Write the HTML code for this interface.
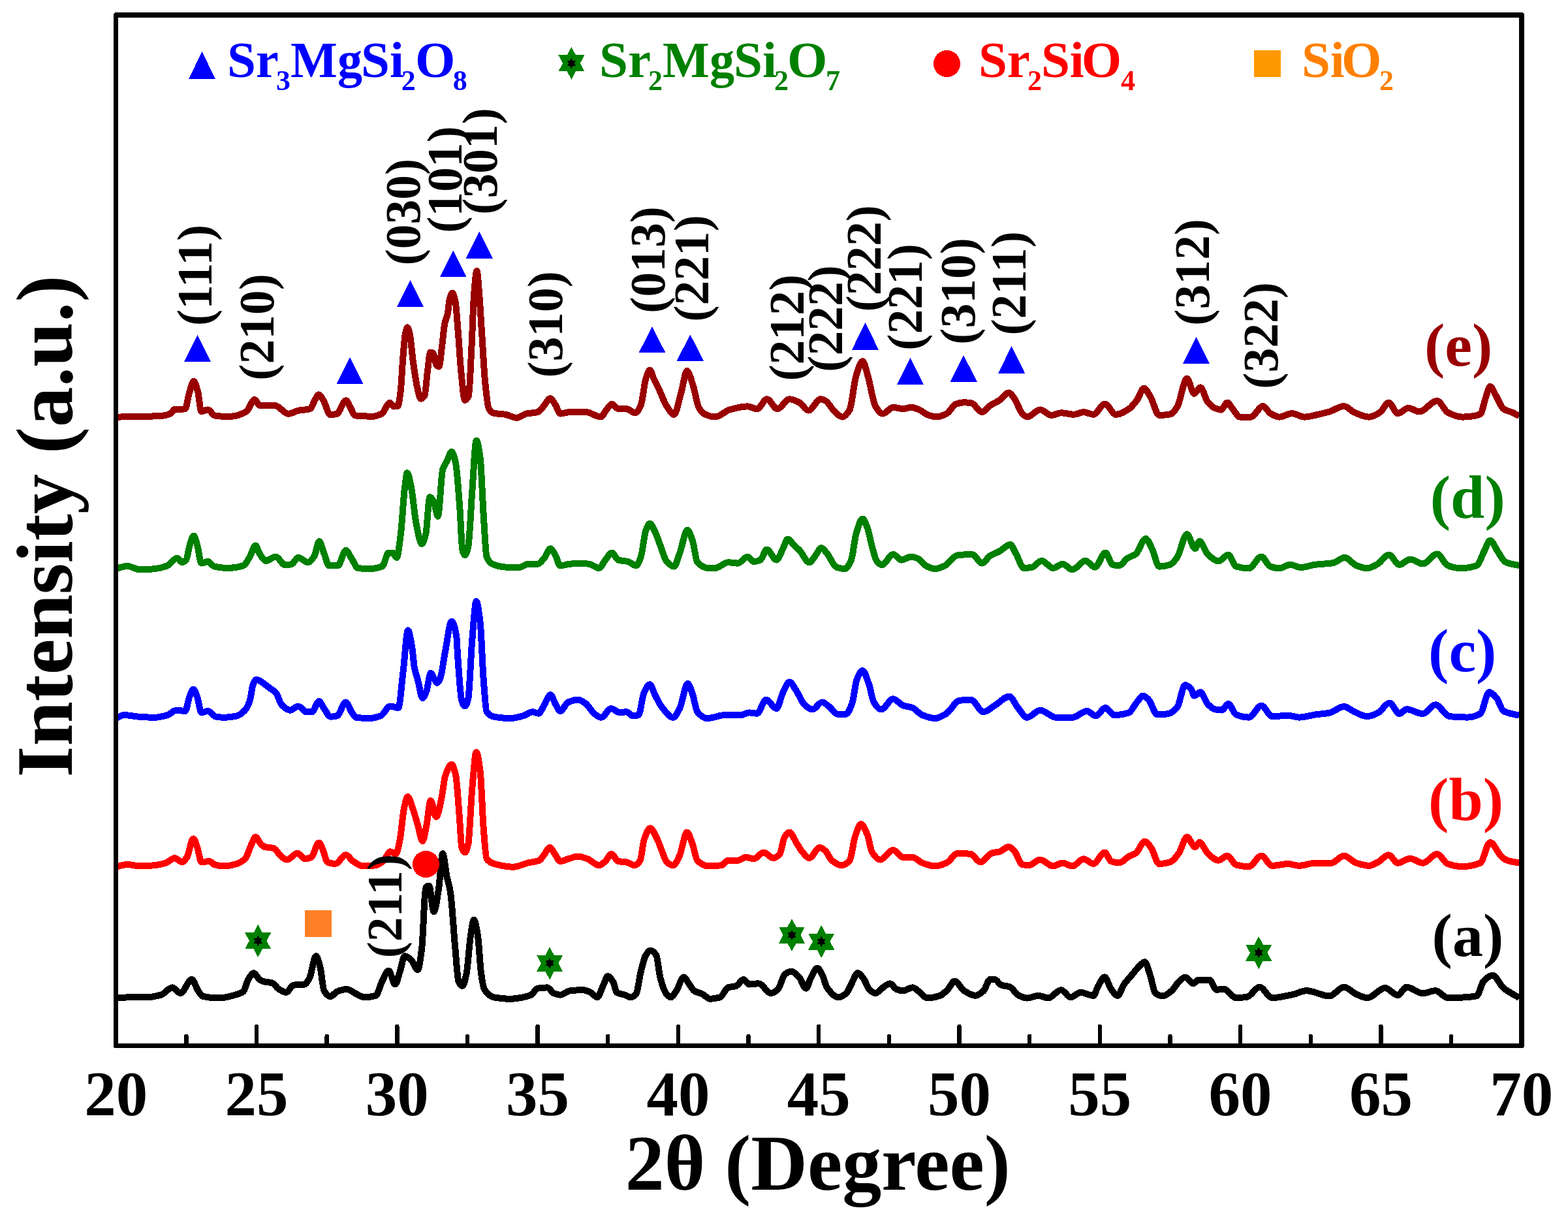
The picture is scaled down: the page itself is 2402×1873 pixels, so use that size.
<!DOCTYPE html><html><head><meta charset="utf-8"><title>XRD patterns</title>
<style>html,body{margin:0;padding:0;background:#fff;width:2402px;height:1873px;overflow:hidden}svg{display:block}text{font-family:"Liberation Serif","Times New Roman",serif;font-weight:bold}</style></head><body>
<svg width="2402" height="1873" viewBox="0 0 2402 1873" shape-rendering="crispEdges">
<rect width="2402" height="1873" fill="#fff"/>
<path d="M177.6,639.0 C185.27,638.57 192.93,637.70 200.6,637.7 C209.17,637.70 217.73,637.70 226.3,637.7 C234.87,637.70 243.43,637.26 252.0,636.4 C255.40,636.06 258.80,634.63 262.2,632.6 C263.90,631.58 265.60,626.70 267.3,626.7 C270.73,626.70 274.17,626.70 277.6,626.7 C279.73,626.70 281.87,626.47 284.0,626.0 C285.67,625.63 287.33,611.21 289.0,605.6 C291.60,596.86 294.20,583.80 296.8,583.8 C298.93,583.80 301.07,592.72 303.2,600.5 C304.90,606.70 306.60,630.00 308.3,630.0 C311.73,630.00 315.17,627.40 318.6,627.4 C322.00,627.40 325.40,635.77 328.8,636.4 C333.10,637.20 337.40,637.70 341.7,637.7 C345.97,637.70 350.23,637.70 354.5,637.7 C362.20,637.70 369.90,634.47 377.6,630.0 C381.70,627.62 385.80,612.00 389.9,612.0 C392.60,612.00 395.30,621.00 398.0,621.0 C405.73,621.00 413.47,621.00 421.2,621.0 C428.03,621.00 434.87,633.80 441.7,633.8 C446.80,633.80 451.90,629.71 457.0,628.7 C463.00,627.51 469.00,627.95 475.0,626.2 C477.57,625.45 480.13,615.98 482.7,612.0 C484.57,609.10 486.43,604.40 488.3,604.4 C490.70,604.40 493.10,609.61 495.5,613.3 C498.93,618.58 502.37,635.10 505.8,635.1 C509.20,635.10 512.60,634.56 516.0,633.8 C520.70,632.75 525.40,613.30 530.1,613.3 C532.23,613.30 534.37,620.11 536.5,623.6 C539.07,627.80 541.63,636.12 544.2,636.4 C553.60,637.43 563.00,637.70 572.4,637.7 C574.93,637.70 577.47,636.59 580.0,635.7 C581.97,635.01 583.93,634.23 585.9,632.7 C587.83,631.20 589.77,625.96 591.7,623.2 C593.43,620.73 595.17,616.60 596.9,616.6 C599.10,616.60 601.30,622.50 603.5,622.5 C605.47,622.50 607.43,622.25 609.4,621.7 C610.87,621.29 612.33,609.78 613.8,598.2 C615.00,588.73 616.20,560.86 617.4,546.8 C618.63,532.35 619.87,515.58 621.1,510.1 C622.10,505.66 623.10,501.30 624.1,501.3 C625.30,501.30 626.50,506.66 627.7,511.6 C629.43,518.74 631.17,541.79 632.9,554.2 C634.83,568.04 636.77,582.41 638.7,590.9 C640.67,599.53 642.63,610.70 644.6,610.7 C646.57,610.70 648.53,608.81 650.5,605.6 C651.97,603.21 653.43,579.78 654.9,568.9 C656.37,558.02 657.83,539.50 659.3,539.5 C660.77,539.50 662.23,540.08 663.7,541.0 C665.17,541.92 666.63,556.94 668.1,558.6 C669.57,560.26 671.03,561.50 672.5,561.5 C673.97,561.50 675.43,543.07 676.9,532.2 C678.37,521.33 679.83,502.37 681.3,495.4 C682.77,488.43 684.23,487.67 685.7,480.8 C686.70,476.11 687.70,462.35 688.7,458.7 C690.17,453.35 691.63,448.50 693.1,448.5 C694.57,448.50 696.03,454.79 697.5,461.7 C698.97,468.61 700.43,492.40 701.9,510.1 C703.37,527.80 704.83,554.66 706.3,568.9 C708.27,587.99 710.23,612.90 712.2,612.9 C714.13,612.90 716.07,610.31 718.0,605.6 C719.47,602.03 720.93,560.05 722.4,532.2 C723.63,508.78 724.87,466.48 726.1,451.4 C727.57,433.46 729.03,414.70 730.5,414.7 C731.73,414.70 732.97,436.75 734.2,451.4 C735.67,468.82 737.13,495.47 738.6,517.5 C740.07,539.53 741.53,569.07 743.0,583.6 C744.97,603.08 746.93,622.85 748.9,626.1 C751.33,630.12 753.77,632.14 756.2,632.7 C762.20,634.09 768.20,633.80 774.2,634.8 C779.97,635.76 785.73,639.80 791.5,639.8 C796.43,639.80 801.37,634.67 806.3,633.6 C812.07,632.34 817.83,632.66 823.6,631.1 C826.90,630.21 830.20,624.78 833.5,621.2 C836.63,617.80 839.77,610.10 842.9,610.1 C845.53,610.10 848.17,616.09 850.8,620.0 C853.30,623.71 855.80,633.60 858.3,633.6 C863.23,633.60 868.17,631.10 873.1,631.1 C881.33,631.10 889.57,631.10 897.8,631.1 C905.23,631.10 912.67,638.50 920.1,638.5 C923.40,638.50 926.70,629.87 930.0,626.2 C932.47,623.46 934.93,618.70 937.4,618.7 C940.70,618.70 944.00,626.20 947.3,626.2 C951.40,626.20 955.50,626.20 959.6,626.2 C964.13,626.20 968.67,632.30 973.2,632.3 C976.10,632.30 979.00,626.53 981.9,619.9 C984.37,614.26 986.83,587.98 989.3,580.4 C991.37,574.05 993.43,566.80 995.5,566.8 C997.57,566.80 999.63,576.07 1001.7,580.4 C1004.17,585.57 1006.63,590.06 1009.1,595.2 C1013.23,603.81 1017.37,616.32 1021.5,622.4 C1025.20,627.84 1028.90,634.80 1032.6,634.8 C1036.30,634.80 1040.00,612.76 1043.7,600.2 C1046.60,590.35 1049.50,568.00 1052.4,568.0 C1055.27,568.00 1058.13,579.67 1061.0,587.8 C1064.30,597.16 1067.60,619.69 1070.9,624.9 C1074.20,630.11 1077.50,633.43 1080.8,634.8 C1085.73,636.85 1090.67,638.50 1095.6,638.5 C1103.03,638.50 1110.47,629.43 1117.9,627.4 C1126.97,624.93 1136.03,622.40 1145.1,622.4 C1150.03,622.40 1154.97,626.20 1159.9,626.2 C1164.87,626.20 1169.83,611.30 1174.8,611.3 C1180.13,611.30 1185.47,626.20 1190.8,626.2 C1197.00,626.20 1203.20,611.30 1209.4,611.3 C1214.33,611.30 1219.27,613.90 1224.2,616.3 C1228.97,618.62 1233.73,628.60 1238.5,628.6 C1244.70,628.60 1250.90,611.30 1257.1,611.3 C1259.57,611.30 1262.03,612.58 1264.5,613.8 C1269.43,616.24 1274.37,626.99 1279.3,631.1 C1283.03,634.21 1286.77,638.50 1290.5,638.5 C1294.20,638.50 1297.90,633.70 1301.6,627.4 C1304.90,621.78 1308.20,585.90 1311.5,575.5 C1314.80,565.10 1318.10,553.20 1321.4,553.2 C1324.27,553.20 1327.13,568.41 1330.0,577.9 C1333.73,590.26 1337.47,616.40 1341.2,622.4 C1344.90,628.35 1348.60,633.60 1352.3,633.6 C1357.67,633.60 1363.03,623.70 1368.4,623.7 C1373.33,623.70 1378.27,626.20 1383.2,626.2 C1387.33,626.20 1391.47,623.70 1395.6,623.7 C1399.70,623.70 1403.80,625.79 1407.9,627.4 C1412.87,629.34 1417.83,634.53 1422.8,636.0 C1426.90,637.21 1431.00,638.50 1435.1,638.5 C1440.07,638.50 1445.03,636.06 1450.0,633.6 C1454.93,631.15 1459.87,620.27 1464.8,618.7 C1468.93,617.38 1473.07,616.30 1477.2,616.3 C1480.90,616.30 1484.60,616.82 1488.3,617.5 C1493.67,618.48 1499.03,631.10 1504.4,631.1 C1508.50,631.10 1512.60,623.97 1516.7,621.2 C1521.67,617.84 1526.63,615.98 1531.6,612.6 C1536.13,609.52 1540.67,601.40 1545.2,601.4 C1548.07,601.40 1550.93,606.39 1553.8,610.1 C1557.93,615.45 1562.07,629.70 1566.2,633.6 C1568.67,635.93 1571.13,638.50 1573.6,638.5 C1580.20,638.50 1586.80,627.40 1593.4,627.4 C1599.17,627.40 1604.93,636.00 1610.7,636.0 C1615.63,636.00 1620.57,632.30 1625.5,632.3 C1632.10,632.30 1638.70,634.80 1645.3,634.8 C1650.27,634.80 1655.23,631.10 1660.2,631.1 C1665.13,631.10 1670.07,634.80 1675.0,634.8 C1680.77,634.80 1686.53,618.70 1692.3,618.7 C1698.07,618.70 1703.83,634.80 1709.6,634.8 C1716.20,634.80 1722.80,630.45 1729.4,626.2 C1733.53,623.54 1737.67,618.13 1741.8,612.6 C1745.33,607.88 1748.87,594.70 1752.4,594.7 C1755.60,594.70 1758.80,601.97 1762.0,607.0 C1766.57,614.18 1771.13,635.90 1775.7,635.9 C1781.20,635.90 1786.70,635.41 1792.2,634.5 C1795.87,633.89 1799.53,628.82 1803.2,623.5 C1808.23,616.20 1813.27,579.60 1818.3,579.6 C1821.97,579.60 1825.63,602.90 1829.3,602.9 C1832.50,602.90 1835.70,593.30 1838.9,593.3 C1842.57,593.30 1846.23,610.84 1849.9,615.3 C1853.57,619.76 1857.23,623.36 1860.9,624.9 C1864.10,626.25 1867.30,627.60 1870.5,627.6 C1873.70,627.60 1876.90,616.60 1880.1,616.6 C1882.87,616.60 1885.63,623.12 1888.4,626.3 C1892.03,630.48 1895.67,638.60 1899.3,638.6 C1904.80,638.60 1910.30,638.60 1915.8,638.6 C1922.20,638.60 1928.60,622.10 1935.0,622.1 C1938.67,622.10 1942.33,630.98 1946.0,633.1 C1950.60,635.76 1955.20,638.60 1959.8,638.6 C1966.20,638.60 1972.60,633.10 1979.0,633.1 C1985.40,633.10 1991.80,638.60 1998.2,638.6 C2005.53,638.60 2012.87,636.07 2020.2,634.5 C2025.70,633.32 2031.20,632.03 2036.7,630.4 C2044.03,628.22 2051.37,622.10 2058.7,622.1 C2064.20,622.10 2069.70,629.53 2075.2,631.8 C2082.50,634.81 2089.80,638.60 2097.1,638.6 C2102.60,638.60 2108.10,635.14 2113.6,631.8 C2118.20,629.00 2122.80,616.60 2127.4,616.6 C2131.97,616.60 2136.53,633.10 2141.1,633.1 C2146.60,633.10 2152.10,624.90 2157.6,624.9 C2163.10,624.90 2168.60,630.40 2174.1,630.4 C2183.23,630.40 2192.37,613.90 2201.5,613.9 C2207.00,613.90 2212.50,629.08 2218.0,631.8 C2225.33,635.42 2232.67,638.60 2240.0,638.6 C2249.17,638.60 2258.33,637.61 2267.5,634.5 C2270.23,633.57 2272.97,617.40 2275.7,609.8 C2278.00,603.40 2280.30,591.90 2282.6,591.9 C2285.80,591.90 2289.00,601.70 2292.2,607.0 C2295.87,613.07 2299.53,623.85 2303.2,626.3 C2307.77,629.35 2312.33,629.72 2316.9,631.8 C2320.43,633.41 2323.97,635.47 2327.5,637.3" fill="none" stroke="#990000" stroke-width="10" stroke-linejoin="round" stroke-linecap="butt"/>
<path d="M177.5,871.2 C183.27,869.80 189.03,867.00 194.8,867.0 C201.40,867.00 208.00,872.40 214.6,872.4 C222.00,872.40 229.40,871.86 236.8,871.2 C243.40,870.61 250.00,868.85 256.6,866.3 C261.53,864.39 266.47,854.60 271.4,854.6 C273.90,854.60 276.40,861.30 278.9,861.3 C280.93,861.30 282.97,859.74 285.0,857.6 C287.07,855.43 289.13,838.82 291.2,832.9 C293.03,827.65 294.87,820.50 296.7,820.5 C298.57,820.50 300.43,829.24 302.3,835.4 C304.37,842.22 306.43,862.60 308.5,862.6 C311.80,862.60 315.10,860.10 318.4,860.1 C321.70,860.10 325.00,866.73 328.3,867.5 C334.90,869.05 341.50,870.00 348.1,870.0 C356.33,870.00 364.57,868.81 372.8,866.3 C376.10,865.29 379.40,858.08 382.7,852.7 C385.60,847.97 388.50,835.40 391.4,835.4 C393.47,835.40 395.53,844.66 397.6,847.7 C400.87,852.51 404.13,858.80 407.4,858.8 C412.37,858.80 417.33,852.70 422.3,852.7 C427.23,852.70 432.17,865.50 437.1,865.5 C440.40,865.50 443.70,864.77 447.0,863.8 C450.30,862.83 453.60,853.90 456.9,853.9 C461.83,853.90 466.77,861.30 471.7,861.3 C475.00,861.30 478.30,856.47 481.6,851.4 C484.07,847.61 486.53,829.20 489.0,829.2 C491.50,829.20 494.00,841.48 496.5,847.7 C498.97,853.84 501.43,866.30 503.9,866.3 C508.43,866.30 512.97,866.30 517.5,866.3 C521.60,866.30 525.70,842.80 529.8,842.8 C532.70,842.80 535.60,850.87 538.5,855.1 C541.80,859.91 545.10,869.52 548.4,870.0 C554.17,870.83 559.93,871.20 565.7,871.2 C572.30,871.20 578.90,870.00 585.5,867.5 C588.80,866.25 592.10,846.50 595.4,846.5 C597.47,846.50 599.53,846.50 601.6,846.5 C603.63,846.50 605.67,853.90 607.7,853.9 C609.77,853.90 611.83,833.95 613.9,818.0 C615.97,802.05 618.03,762.20 620.1,746.3 C621.33,736.81 622.57,724.10 623.8,724.1 C625.87,724.10 627.93,736.45 630.0,746.3 C632.47,758.06 634.93,788.45 637.4,800.7 C640.30,815.11 643.20,832.90 646.1,832.9 C648.13,832.90 650.17,825.83 652.2,818.0 C654.27,810.04 656.33,761.20 658.4,761.2 C660.47,761.20 662.53,764.90 664.6,768.6 C666.67,772.30 668.73,790.80 670.8,790.8 C673.27,790.80 675.73,727.07 678.2,719.1 C680.27,712.42 682.33,710.93 684.4,706.8 C686.87,701.87 689.33,691.90 691.8,691.9 C693.87,691.90 695.93,700.04 698.0,709.2 C700.07,718.36 702.13,749.41 704.2,776.0 C705.63,794.44 707.07,837.92 708.5,842.8 C709.77,847.11 711.03,850.20 712.3,850.2 C713.93,850.20 715.57,844.61 717.2,837.8 C719.27,829.18 721.33,778.40 723.4,751.3 C725.47,724.20 727.53,674.60 729.6,674.6 C731.63,674.60 733.67,687.09 735.7,701.8 C737.37,713.86 739.03,763.53 740.7,788.4 C742.33,812.78 743.97,848.59 745.6,852.7 C748.50,860.00 751.40,862.58 754.3,863.8 C761.70,866.90 769.10,868.70 776.5,868.7 C783.10,868.70 789.70,868.70 796.3,868.7 C800.43,868.70 804.57,863.80 808.7,863.8 C813.63,863.80 818.57,863.80 823.5,863.8 C826.80,863.80 830.10,858.75 833.4,855.1 C836.70,851.45 840.00,840.30 843.3,840.3 C845.77,840.30 848.23,846.11 850.7,850.2 C853.17,854.29 855.63,866.30 858.1,866.3 C863.07,866.30 868.03,864.34 873.0,863.8 C877.93,863.26 882.87,862.60 887.8,862.6 C892.77,862.60 897.73,863.13 902.7,863.8 C907.63,864.47 912.57,870.00 917.5,870.0 C920.80,870.00 924.10,861.50 927.4,857.6 C930.70,853.70 934.00,846.50 937.3,846.5 C940.60,846.50 943.90,856.58 947.2,857.6 C952.13,859.12 957.07,858.84 962.0,860.1 C966.13,861.16 970.27,866.30 974.4,866.3 C976.87,866.30 979.33,859.45 981.8,852.7 C984.27,845.95 986.73,819.62 989.2,813.1 C991.27,807.64 993.33,802.00 995.4,802.0 C998.27,802.00 1001.13,809.90 1004.0,815.6 C1006.50,820.57 1009.00,828.98 1011.5,835.4 C1014.80,843.88 1018.10,856.59 1021.4,860.1 C1025.10,864.04 1028.80,867.50 1032.5,867.5 C1035.37,867.50 1038.23,855.12 1041.1,847.7 C1045.07,837.43 1049.03,811.90 1053.0,811.9 C1055.63,811.90 1058.27,820.51 1060.9,827.9 C1063.37,834.83 1065.83,858.80 1068.3,861.3 C1074.07,867.14 1079.83,870.00 1085.6,870.0 C1088.90,870.00 1092.20,870.00 1095.5,870.0 C1102.10,870.00 1108.70,861.30 1115.3,861.3 C1120.27,861.30 1125.23,862.60 1130.2,862.6 C1135.13,862.60 1140.07,852.70 1145.0,852.7 C1148.30,852.70 1151.60,860.10 1154.9,860.1 C1158.20,860.10 1161.50,859.04 1164.8,857.6 C1168.10,856.16 1171.40,841.50 1174.7,841.5 C1179.63,841.50 1184.57,857.60 1189.5,857.6 C1192.80,857.60 1196.10,846.48 1199.4,840.3 C1201.87,835.68 1204.33,825.50 1206.8,825.5 C1210.10,825.50 1213.40,832.25 1216.7,835.4 C1219.40,837.97 1222.10,840.00 1224.8,842.8 C1229.77,847.95 1234.73,861.30 1239.7,861.3 C1243.00,861.30 1246.30,854.17 1249.6,850.2 C1252.47,846.75 1255.33,839.10 1258.2,839.1 C1261.10,839.10 1264.00,844.37 1266.9,847.7 C1271.83,853.36 1276.77,867.00 1281.7,868.7 C1285.83,870.13 1289.97,871.20 1294.1,871.2 C1297.40,871.20 1300.70,865.03 1304.0,857.6 C1306.47,852.05 1308.93,826.27 1311.4,818.0 C1314.70,806.94 1318.00,794.50 1321.3,794.5 C1323.77,794.50 1326.23,801.96 1328.7,808.2 C1331.17,814.44 1333.63,829.32 1336.1,837.8 C1338.57,846.28 1341.03,857.45 1343.5,860.1 C1346.00,862.79 1348.50,865.00 1351.0,865.0 C1356.77,865.00 1362.53,849.00 1368.3,849.0 C1372.40,849.00 1376.50,857.60 1380.6,857.6 C1385.57,857.60 1390.53,852.70 1395.5,852.7 C1398.80,852.70 1402.10,853.90 1405.4,855.1 C1410.33,856.89 1415.27,865.36 1420.2,867.5 C1424.33,869.29 1428.47,871.20 1432.6,871.2 C1437.53,871.20 1442.47,868.58 1447.4,866.3 C1454.00,863.26 1460.60,850.88 1467.2,850.2 C1474.60,849.44 1482.00,849.00 1489.4,849.0 C1494.37,849.00 1499.33,862.60 1504.3,862.6 C1508.40,862.60 1512.50,854.06 1516.6,851.4 C1521.57,848.18 1526.53,846.73 1531.5,844.0 C1536.83,841.07 1542.17,834.10 1547.5,834.1 C1550.40,834.10 1553.30,842.87 1556.2,847.7 C1560.33,854.59 1564.47,870.00 1568.6,870.0 C1572.70,870.00 1576.80,869.43 1580.9,868.7 C1585.87,867.81 1590.83,858.80 1595.8,858.8 C1601.57,858.80 1607.33,870.00 1613.1,870.0 C1618.03,870.00 1622.97,863.80 1627.9,863.8 C1632.83,863.80 1637.77,872.40 1642.7,872.4 C1649.30,872.40 1655.90,858.80 1662.5,858.8 C1667.47,858.80 1672.43,868.70 1677.4,868.7 C1682.73,868.70 1688.07,846.50 1693.4,846.5 C1697.13,846.50 1700.87,864.10 1704.6,865.0 C1707.87,865.79 1711.13,866.30 1714.4,866.3 C1718.53,866.30 1722.67,857.79 1726.8,855.1 C1731.20,852.23 1735.60,851.73 1740.0,848.4 C1745.03,844.59 1750.07,825.00 1755.1,825.0 C1758.30,825.00 1761.50,833.95 1764.7,840.1 C1768.37,847.14 1772.03,867.60 1775.7,867.6 C1781.20,867.60 1786.70,866.48 1792.2,864.8 C1795.87,863.68 1799.53,858.85 1803.2,853.8 C1808.23,846.87 1813.27,818.10 1818.3,818.1 C1822.43,818.10 1826.57,840.10 1830.7,840.1 C1832.97,840.10 1835.23,829.10 1837.5,829.1 C1841.63,829.10 1845.77,844.49 1849.9,848.4 C1855.40,853.60 1860.90,859.30 1866.4,859.3 C1871.43,859.30 1876.47,849.70 1881.5,849.7 C1885.60,849.70 1889.70,866.49 1893.8,867.6 C1900.23,869.35 1906.67,870.30 1913.1,870.3 C1919.50,870.30 1925.90,852.50 1932.3,852.5 C1936.87,852.50 1941.43,866.08 1946.0,867.6 C1950.60,869.13 1955.20,870.30 1959.8,870.3 C1965.30,870.30 1970.80,864.80 1976.3,864.8 C1981.77,864.80 1987.23,869.00 1992.7,869.0 C2000.03,869.00 2007.37,865.76 2014.7,864.8 C2023.87,863.60 2033.03,863.66 2042.2,862.1 C2048.13,861.09 2054.07,853.80 2060.0,853.8 C2065.97,853.80 2071.93,864.03 2077.9,866.2 C2083.40,868.20 2088.90,870.30 2094.4,870.3 C2099.90,870.30 2105.40,866.54 2110.9,863.5 C2116.40,860.46 2121.90,849.70 2127.4,849.7 C2132.87,849.70 2138.33,864.80 2143.8,864.8 C2149.30,864.80 2154.80,856.60 2160.3,856.6 C2166.73,856.60 2173.17,863.50 2179.6,863.5 C2186.90,863.50 2194.20,848.40 2201.5,848.4 C2207.00,848.40 2212.50,864.21 2218.0,866.2 C2224.43,868.52 2230.87,870.30 2237.3,870.3 C2245.53,870.30 2253.77,869.01 2262.0,866.2 C2265.67,864.95 2269.33,852.45 2273.0,845.6 C2276.20,839.62 2279.40,827.70 2282.6,827.7 C2286.73,827.70 2290.87,839.79 2295.0,845.6 C2298.67,850.76 2302.33,858.99 2306.0,860.7 C2313.17,864.04 2320.33,864.37 2327.5,866.2" fill="none" stroke="#008000" stroke-width="10" stroke-linejoin="round" stroke-linecap="butt"/>
<path d="M177.5,1100.1 C181.60,1098.43 185.70,1095.10 189.8,1095.1 C197.23,1095.10 204.67,1097.09 212.1,1097.6 C220.33,1098.16 228.57,1098.80 236.8,1098.8 C243.40,1098.80 250.00,1096.99 256.6,1095.1 C261.13,1093.80 265.67,1087.70 270.2,1087.7 C274.73,1087.70 279.27,1089.00 283.8,1089.0 C285.87,1089.00 287.93,1073.08 290.0,1067.9 C292.07,1062.72 294.13,1055.60 296.2,1055.6 C298.23,1055.60 300.27,1062.55 302.3,1067.9 C304.37,1073.34 306.43,1091.40 308.5,1091.4 C311.80,1091.40 315.10,1089.00 318.4,1089.0 C322.53,1089.00 326.67,1096.89 330.8,1097.6 C334.90,1098.30 339.00,1098.80 343.1,1098.8 C349.70,1098.80 356.30,1097.84 362.9,1096.4 C367.03,1095.50 371.17,1092.17 375.3,1087.7 C377.77,1085.03 380.23,1080.12 382.7,1072.9 C384.37,1068.02 386.03,1052.09 387.7,1048.2 C389.33,1044.39 390.97,1040.70 392.6,1040.7 C395.90,1040.70 399.20,1043.71 402.5,1045.7 C405.80,1047.69 409.10,1050.63 412.4,1053.1 C415.70,1055.57 419.00,1056.91 422.3,1060.5 C425.60,1064.09 428.90,1077.19 432.2,1080.3 C436.30,1084.17 440.40,1087.70 444.5,1087.7 C448.63,1087.70 452.77,1081.50 456.9,1081.5 C461.03,1081.50 465.17,1090.20 469.3,1090.2 C472.17,1090.20 475.03,1090.20 477.9,1090.2 C481.47,1090.20 485.03,1074.10 488.6,1074.1 C491.23,1074.10 493.87,1081.70 496.5,1085.2 C499.80,1089.58 503.10,1097.60 506.4,1097.6 C509.67,1097.60 512.93,1097.11 516.2,1096.4 C520.73,1095.42 525.27,1075.40 529.8,1075.4 C532.70,1075.40 535.60,1086.22 538.5,1090.2 C540.97,1093.59 543.43,1098.45 545.9,1098.8 C552.50,1099.75 559.10,1100.10 565.7,1100.1 C571.47,1100.10 577.23,1098.47 583.0,1096.4 C587.93,1094.63 592.87,1081.50 597.8,1081.5 C601.93,1081.50 606.07,1084.00 610.2,1084.0 C612.67,1084.00 615.13,1048.10 617.6,1028.4 C620.07,1008.70 622.53,965.30 625.0,965.3 C627.07,965.30 629.13,979.40 631.2,991.3 C632.47,998.60 633.73,1016.98 635.0,1023.4 C636.63,1031.68 638.27,1034.70 639.9,1040.7 C642.37,1049.76 644.83,1069.20 647.3,1069.2 C649.37,1069.20 651.43,1063.29 653.5,1058.0 C655.57,1052.71 657.63,1030.80 659.7,1030.8 C663.00,1030.80 666.30,1045.70 669.6,1045.7 C671.23,1045.70 672.87,1042.01 674.5,1038.3 C676.97,1032.70 679.43,1011.15 681.9,998.7 C685.20,982.05 688.50,951.70 691.8,951.7 C694.27,951.70 696.73,959.63 699.2,974.0 C699.83,977.69 700.47,995.11 701.1,1003.6 C703.17,1031.31 705.23,1066.90 707.3,1072.9 C708.97,1077.74 710.63,1081.50 712.3,1081.5 C713.93,1081.50 715.57,1076.64 717.2,1070.4 C719.27,1062.51 721.33,1002.59 723.4,978.9 C725.47,955.21 727.53,920.80 729.6,920.8 C731.63,920.80 733.67,936.99 735.7,954.2 C737.37,968.31 739.03,1019.46 740.7,1040.7 C742.33,1061.52 743.97,1087.91 745.6,1090.2 C749.33,1095.43 753.07,1096.88 756.8,1097.6 C765.03,1099.19 773.27,1100.10 781.5,1100.1 C788.10,1100.10 794.70,1098.14 801.3,1096.4 C806.23,1095.10 811.17,1090.20 816.1,1090.2 C819.00,1090.20 821.90,1092.70 824.8,1092.7 C827.67,1092.70 830.53,1084.68 833.4,1080.3 C836.70,1075.26 840.00,1064.20 843.3,1064.2 C845.77,1064.20 848.23,1073.71 850.7,1077.8 C853.17,1081.89 855.63,1089.00 858.1,1089.0 C862.23,1089.00 866.37,1077.14 870.5,1075.4 C875.47,1073.30 880.43,1071.60 885.4,1071.6 C889.50,1071.60 893.60,1074.89 897.7,1077.8 C901.83,1080.73 905.97,1089.60 910.1,1092.7 C913.80,1095.47 917.50,1098.80 921.2,1098.8 C926.13,1098.80 931.07,1085.20 936.0,1085.2 C940.53,1085.20 945.07,1091.40 949.6,1091.4 C952.90,1091.40 956.20,1090.20 959.5,1090.2 C962.80,1090.20 966.10,1096.40 969.4,1096.4 C972.30,1096.40 975.20,1095.94 978.1,1095.1 C980.97,1094.27 983.83,1066.50 986.7,1060.5 C989.60,1054.43 992.50,1048.20 995.4,1048.2 C998.27,1048.20 1001.13,1060.13 1004.0,1065.5 C1007.30,1071.68 1010.60,1078.69 1013.9,1082.8 C1019.67,1089.98 1025.43,1098.80 1031.2,1098.8 C1034.50,1098.80 1037.80,1091.39 1041.1,1085.2 C1045.23,1077.45 1049.37,1046.90 1053.5,1046.9 C1055.97,1046.90 1058.43,1056.26 1060.9,1063.0 C1063.37,1069.74 1065.83,1087.19 1068.3,1090.2 C1073.27,1096.26 1078.23,1100.10 1083.2,1100.1 C1092.27,1100.10 1101.33,1095.10 1110.4,1095.1 C1118.63,1095.10 1126.87,1095.10 1135.1,1095.1 C1139.23,1095.10 1143.37,1091.40 1147.5,1091.4 C1151.60,1091.40 1155.70,1092.70 1159.8,1092.7 C1164.33,1092.70 1168.87,1071.60 1173.4,1071.6 C1178.77,1071.60 1184.13,1085.20 1189.5,1085.2 C1192.80,1085.20 1196.10,1067.00 1199.4,1060.5 C1202.70,1054.00 1206.00,1044.40 1209.3,1044.4 C1212.83,1044.40 1216.37,1052.85 1219.9,1058.0 C1224.03,1064.02 1228.17,1075.43 1232.3,1079.1 C1236.40,1082.74 1240.50,1086.50 1244.6,1086.5 C1249.57,1086.50 1254.53,1075.40 1259.5,1075.4 C1262.77,1075.40 1266.03,1079.20 1269.3,1081.5 C1274.27,1085.00 1279.23,1093.90 1284.2,1093.9 C1287.90,1093.90 1291.60,1093.90 1295.3,1093.9 C1298.60,1093.90 1301.90,1086.11 1305.2,1077.8 C1307.67,1071.59 1310.13,1046.66 1312.6,1040.7 C1315.50,1033.69 1318.40,1027.10 1321.3,1027.1 C1324.60,1027.10 1327.90,1039.18 1331.2,1048.2 C1333.67,1054.94 1336.13,1071.37 1338.6,1075.4 C1342.30,1081.45 1346.00,1086.50 1349.7,1086.5 C1355.90,1086.50 1362.10,1070.40 1368.3,1070.4 C1373.23,1070.40 1378.17,1078.50 1383.1,1080.3 C1388.03,1082.10 1392.97,1082.15 1397.9,1084.0 C1402.87,1085.86 1407.83,1093.18 1412.8,1095.1 C1419.40,1097.65 1426.00,1100.10 1432.6,1100.1 C1438.37,1100.10 1444.13,1096.13 1449.9,1092.7 C1456.47,1088.79 1463.03,1073.80 1469.6,1072.9 C1475.37,1072.11 1481.13,1071.60 1486.9,1071.6 C1493.50,1071.60 1500.10,1090.20 1506.7,1090.2 C1512.47,1090.20 1518.23,1083.70 1524.0,1080.3 C1531.43,1075.92 1538.87,1066.70 1546.3,1066.7 C1550.43,1066.70 1554.57,1077.91 1558.7,1082.8 C1563.63,1088.64 1568.57,1098.80 1573.5,1098.8 C1580.10,1098.80 1586.70,1087.70 1593.3,1087.7 C1601.53,1087.70 1609.77,1098.80 1618.0,1098.8 C1626.23,1098.80 1634.47,1098.80 1642.7,1098.8 C1650.13,1098.80 1657.57,1089.00 1665.0,1089.0 C1669.53,1089.00 1674.07,1096.40 1678.6,1096.4 C1683.53,1096.40 1688.47,1084.00 1693.4,1084.0 C1697.93,1084.00 1702.47,1095.10 1707.0,1095.1 C1714.43,1095.10 1721.87,1093.76 1729.3,1091.4 C1733.40,1090.10 1737.50,1080.12 1741.6,1075.4 C1744.73,1071.79 1747.87,1065.60 1751.0,1065.6 C1753.73,1065.60 1756.47,1068.57 1759.2,1071.1 C1763.80,1075.36 1768.40,1094.50 1773.0,1094.5 C1778.50,1094.50 1784.00,1093.95 1789.5,1093.1 C1794.07,1092.39 1798.63,1088.67 1803.2,1083.5 C1807.30,1078.86 1811.40,1049.10 1815.5,1049.1 C1818.73,1049.10 1821.97,1052.20 1825.2,1056.0 C1826.57,1057.61 1827.93,1065.60 1829.3,1065.6 C1832.50,1065.60 1835.70,1060.10 1838.9,1060.1 C1842.57,1060.10 1846.23,1074.25 1849.9,1078.0 C1853.57,1081.75 1857.23,1085.40 1860.9,1086.2 C1864.57,1087.00 1868.23,1087.60 1871.9,1087.6 C1875.10,1087.60 1878.30,1078.00 1881.5,1078.0 C1885.60,1078.00 1889.70,1092.91 1893.8,1094.5 C1900.23,1096.99 1906.67,1098.60 1913.1,1098.6 C1919.50,1098.60 1925.90,1080.70 1932.3,1080.7 C1937.80,1080.70 1943.30,1097.20 1948.8,1097.2 C1957.03,1097.20 1965.27,1095.80 1973.5,1095.8 C1979.00,1095.80 1984.50,1098.60 1990.0,1098.6 C1998.23,1098.60 2006.47,1095.68 2014.7,1094.5 C2022.03,1093.45 2029.37,1093.15 2036.7,1091.7 C2044.03,1090.25 2051.37,1082.10 2058.7,1082.1 C2064.20,1082.10 2069.70,1088.00 2075.2,1090.3 C2081.60,1092.98 2088.00,1097.20 2094.4,1097.2 C2099.90,1097.20 2105.40,1094.32 2110.9,1091.7 C2116.83,1088.88 2122.77,1076.60 2128.7,1076.6 C2133.73,1076.60 2138.77,1093.10 2143.8,1093.1 C2147.47,1093.10 2151.13,1086.20 2154.8,1086.2 C2163.07,1086.20 2171.33,1093.10 2179.6,1093.1 C2186.00,1093.10 2192.40,1079.30 2198.8,1079.3 C2206.13,1079.30 2213.47,1096.47 2220.8,1097.2 C2229.93,1098.11 2239.07,1098.60 2248.2,1098.6 C2254.63,1098.60 2261.07,1096.53 2267.5,1093.1 C2272.07,1090.66 2276.63,1060.10 2281.2,1060.1 C2284.87,1060.10 2288.53,1064.46 2292.2,1068.4 C2295.87,1072.34 2299.53,1087.03 2303.2,1089.0 C2311.30,1093.35 2319.40,1093.53 2327.5,1095.8" fill="none" stroke="#0000ff" stroke-width="10" stroke-linejoin="round" stroke-linecap="butt"/>
<path d="M177.5,1327.7 C183.27,1326.47 189.03,1324.00 194.8,1324.0 C201.40,1324.00 208.00,1326.50 214.6,1326.5 C222.00,1326.50 229.40,1325.90 236.8,1325.2 C242.57,1324.66 248.33,1323.30 254.1,1321.5 C258.63,1320.08 263.17,1314.10 267.7,1314.1 C271.43,1314.10 275.17,1320.30 278.9,1320.3 C281.37,1320.30 283.83,1316.48 286.3,1312.9 C289.60,1308.11 292.90,1284.40 296.2,1284.4 C298.23,1284.40 300.27,1292.41 302.3,1298.0 C304.37,1303.69 306.43,1320.30 308.5,1320.3 C312.63,1320.30 316.77,1319.10 320.9,1319.1 C323.37,1319.10 325.83,1323.29 328.3,1324.0 C333.23,1325.42 338.17,1326.50 343.1,1326.5 C349.70,1326.50 356.30,1324.76 362.9,1322.8 C367.03,1321.57 371.17,1319.39 375.3,1315.4 C378.60,1312.22 381.90,1299.63 385.2,1293.1 C387.27,1289.01 389.33,1282.00 391.4,1282.0 C394.27,1282.00 397.13,1290.47 400.0,1293.1 C401.67,1294.63 403.33,1296.29 405.0,1296.8 C409.93,1298.31 414.87,1297.78 419.8,1299.3 C423.10,1300.32 426.40,1307.75 429.7,1310.4 C433.00,1313.05 436.30,1316.60 439.6,1316.6 C444.97,1316.60 450.33,1306.70 455.7,1306.7 C459.40,1306.70 463.10,1315.40 466.8,1315.4 C470.10,1315.40 473.40,1314.34 476.7,1312.9 C480.67,1311.17 484.63,1290.60 488.6,1290.6 C490.80,1290.60 493.00,1298.05 495.2,1303.0 C497.27,1307.65 499.33,1319.44 501.4,1320.3 C505.53,1322.02 509.67,1322.80 513.8,1322.8 C519.13,1322.80 524.47,1309.20 529.8,1309.2 C533.53,1309.20 537.27,1316.68 541.0,1319.1 C545.93,1322.29 550.87,1326.50 555.8,1326.5 C562.40,1326.50 569.00,1326.03 575.6,1325.2 C579.73,1324.68 583.87,1321.30 588.0,1317.8 C591.27,1315.03 594.53,1304.20 597.8,1304.2 C600.70,1304.20 603.60,1307.90 606.5,1307.9 C608.57,1307.90 610.63,1295.75 612.7,1285.7 C614.77,1275.65 616.83,1248.08 618.9,1238.7 C620.80,1230.08 622.70,1220.10 624.6,1220.1 C627.23,1220.10 629.87,1231.42 632.5,1238.7 C634.97,1245.52 637.43,1255.17 639.9,1263.4 C642.37,1271.63 644.83,1288.10 647.3,1288.1 C649.37,1288.10 651.43,1273.29 653.5,1263.4 C655.57,1253.51 657.63,1226.30 659.7,1226.3 C662.57,1226.30 665.43,1251.10 668.3,1251.1 C671.20,1251.10 674.10,1232.54 677.0,1218.9 C678.63,1211.22 680.27,1194.16 681.9,1189.2 C685.20,1179.18 688.50,1170.70 691.8,1170.7 C693.87,1170.70 695.93,1178.09 698.0,1186.8 C700.07,1195.51 702.13,1230.43 704.2,1256.0 C705.23,1268.78 706.27,1295.02 707.3,1298.0 C708.97,1302.80 710.63,1305.50 712.3,1305.5 C713.93,1305.50 715.57,1299.91 717.2,1293.1 C719.27,1284.48 721.33,1228.77 723.4,1206.5 C725.47,1184.23 727.53,1152.10 729.6,1152.1 C731.63,1152.10 733.67,1166.05 735.7,1181.8 C737.37,1194.71 739.03,1247.84 740.7,1268.4 C742.33,1288.55 743.97,1313.12 745.6,1315.4 C749.33,1320.61 753.07,1321.71 756.8,1322.8 C766.67,1325.67 776.53,1327.70 786.4,1327.7 C793.83,1327.70 801.27,1323.29 808.7,1321.5 C814.47,1320.11 820.23,1320.09 826.0,1317.8 C828.47,1316.82 830.93,1312.21 833.4,1309.2 C836.30,1305.66 839.20,1298.00 842.1,1298.0 C844.97,1298.00 847.83,1305.42 850.7,1309.2 C853.17,1312.46 855.63,1319.10 858.1,1319.1 C862.23,1319.10 866.37,1316.54 870.5,1315.4 C875.47,1314.03 880.43,1311.60 885.4,1311.6 C890.33,1311.60 895.27,1313.67 900.2,1315.4 C905.97,1317.42 911.73,1325.20 917.5,1325.2 C920.80,1325.20 924.10,1321.82 927.4,1319.1 C930.43,1316.60 933.47,1307.90 936.5,1307.9 C940.07,1307.90 943.63,1318.45 947.2,1319.1 C951.30,1319.85 955.40,1319.66 959.5,1320.3 C963.63,1320.95 967.77,1325.20 971.9,1325.2 C974.80,1325.20 977.70,1322.23 980.6,1317.8 C982.63,1314.69 984.67,1291.52 986.7,1285.7 C989.77,1276.92 992.83,1268.40 995.9,1268.4 C999.43,1268.40 1002.97,1277.64 1006.5,1284.4 C1008.97,1289.12 1011.43,1297.07 1013.9,1303.0 C1016.40,1309.01 1018.90,1318.19 1021.4,1320.3 C1024.67,1323.06 1027.93,1325.20 1031.2,1325.2 C1034.50,1325.20 1037.80,1317.08 1041.1,1310.4 C1044.83,1302.84 1048.57,1274.50 1052.3,1274.5 C1055.17,1274.50 1058.03,1285.54 1060.9,1293.1 C1063.37,1299.61 1065.83,1315.41 1068.3,1317.8 C1074.07,1323.39 1079.83,1326.50 1085.6,1326.5 C1092.20,1326.50 1098.80,1326.08 1105.4,1325.2 C1108.70,1324.76 1112.00,1317.80 1115.3,1317.8 C1120.27,1317.80 1125.23,1317.80 1130.2,1317.8 C1134.30,1317.80 1138.40,1312.90 1142.5,1312.9 C1146.63,1312.90 1150.77,1315.40 1154.9,1315.4 C1159.83,1315.40 1164.77,1305.50 1169.7,1305.5 C1174.67,1305.50 1179.63,1314.10 1184.6,1314.1 C1187.90,1314.10 1191.20,1311.53 1194.5,1307.9 C1196.97,1305.19 1199.43,1285.88 1201.9,1282.0 C1204.37,1278.12 1206.83,1274.50 1209.3,1274.5 C1212.83,1274.50 1216.37,1285.26 1219.9,1290.6 C1223.20,1295.59 1226.50,1301.86 1229.8,1305.5 C1233.10,1309.14 1236.40,1314.10 1239.7,1314.1 C1245.03,1314.10 1250.37,1298.00 1255.7,1298.0 C1258.60,1298.00 1261.50,1300.62 1264.4,1303.0 C1267.70,1305.71 1271.00,1315.24 1274.3,1317.8 C1279.23,1321.62 1284.17,1325.20 1289.1,1325.2 C1293.23,1325.20 1297.37,1322.34 1301.5,1317.8 C1304.37,1314.65 1307.23,1288.87 1310.1,1280.7 C1313.00,1272.43 1315.90,1262.20 1318.8,1262.2 C1322.10,1262.20 1325.40,1270.72 1328.7,1278.3 C1331.17,1283.97 1333.63,1301.76 1336.1,1305.5 C1340.23,1311.77 1344.37,1316.60 1348.5,1316.6 C1355.10,1316.60 1361.70,1301.70 1368.3,1301.7 C1373.23,1301.70 1378.17,1312.90 1383.1,1312.9 C1388.03,1312.90 1392.97,1312.90 1397.9,1312.9 C1402.87,1312.90 1407.83,1319.72 1412.8,1321.5 C1419.40,1323.86 1426.00,1326.50 1432.6,1326.5 C1438.37,1326.50 1444.13,1323.99 1449.9,1321.5 C1455.67,1319.01 1461.43,1306.70 1467.2,1306.7 C1473.80,1306.70 1480.40,1307.12 1487.0,1307.9 C1491.93,1308.48 1496.87,1320.30 1501.8,1320.3 C1507.57,1320.30 1513.33,1308.49 1519.1,1306.7 C1523.23,1305.42 1527.37,1305.41 1531.5,1304.2 C1536.03,1302.88 1540.57,1296.80 1545.1,1296.8 C1547.97,1296.80 1550.83,1300.17 1553.7,1303.0 C1557.83,1307.08 1561.97,1323.09 1566.1,1324.0 C1569.40,1324.72 1572.70,1325.20 1576.0,1325.2 C1581.77,1325.20 1587.53,1316.60 1593.3,1316.6 C1599.90,1316.60 1606.50,1326.50 1613.1,1326.5 C1618.03,1326.50 1622.97,1321.50 1627.9,1321.5 C1632.83,1321.50 1637.77,1326.50 1642.7,1326.5 C1648.47,1326.50 1654.23,1315.40 1660.0,1315.4 C1664.97,1315.40 1669.93,1322.80 1674.9,1322.8 C1680.67,1322.80 1686.43,1305.50 1692.2,1305.5 C1695.50,1305.50 1698.80,1317.94 1702.1,1319.1 C1706.20,1320.54 1710.30,1321.50 1714.4,1321.5 C1719.37,1321.50 1724.33,1314.30 1729.3,1311.6 C1732.87,1309.66 1736.43,1309.01 1740.0,1306.6 C1744.57,1303.52 1749.13,1288.70 1753.7,1288.7 C1756.93,1288.70 1760.17,1294.14 1763.4,1298.4 C1767.50,1303.80 1771.60,1323.10 1775.7,1323.1 C1781.20,1323.10 1786.70,1321.93 1792.2,1320.3 C1796.77,1318.95 1801.33,1312.71 1805.9,1306.6 C1810.03,1301.07 1814.17,1281.90 1818.3,1281.9 C1822.43,1281.90 1826.57,1297.00 1830.7,1297.0 C1832.97,1297.00 1835.23,1290.10 1837.5,1290.1 C1841.63,1290.10 1845.77,1302.87 1849.9,1306.6 C1855.40,1311.56 1860.90,1317.60 1866.4,1317.6 C1870.97,1317.60 1875.53,1310.70 1880.1,1310.7 C1884.67,1310.70 1889.23,1323.33 1893.8,1324.5 C1900.23,1326.15 1906.67,1327.20 1913.1,1327.2 C1919.50,1327.20 1925.90,1310.70 1932.3,1310.7 C1937.80,1310.70 1943.30,1325.80 1948.8,1325.8 C1957.03,1325.80 1965.27,1323.10 1973.5,1323.1 C1979.00,1323.10 1984.50,1325.80 1990.0,1325.8 C1998.23,1325.80 2006.47,1321.70 2014.7,1321.7 C2022.97,1321.70 2031.23,1321.70 2039.5,1321.7 C2045.90,1321.70 2052.30,1310.70 2058.7,1310.7 C2065.10,1310.70 2071.50,1319.71 2077.9,1321.7 C2084.30,1323.69 2090.70,1325.80 2097.1,1325.8 C2101.70,1325.80 2106.30,1322.58 2110.9,1320.3 C2116.40,1317.58 2121.90,1309.30 2127.4,1309.3 C2131.97,1309.30 2136.53,1321.70 2141.1,1321.7 C2147.50,1321.70 2153.90,1314.80 2160.3,1314.8 C2166.73,1314.80 2173.17,1321.70 2179.6,1321.7 C2186.90,1321.70 2194.20,1308.00 2201.5,1308.0 C2207.00,1308.00 2212.50,1321.34 2218.0,1323.1 C2225.33,1325.44 2232.67,1327.20 2240.0,1327.2 C2249.17,1327.20 2258.33,1325.34 2267.5,1321.7 C2272.53,1319.70 2277.57,1290.10 2282.6,1290.1 C2288.53,1290.10 2294.47,1307.16 2300.4,1312.1 C2303.17,1314.40 2305.93,1316.63 2308.7,1317.6 C2314.97,1319.80 2321.23,1320.33 2327.5,1321.7" fill="none" stroke="#ff0000" stroke-width="10" stroke-linejoin="round" stroke-linecap="butt"/>
<path d="M177.5,1528.5 C184.90,1528.10 192.30,1527.30 199.7,1527.3 C207.97,1527.30 216.23,1527.30 224.5,1527.3 C231.90,1527.30 239.30,1525.61 246.7,1523.6 C252.47,1522.03 258.23,1512.40 264.0,1512.4 C268.13,1512.40 272.27,1521.10 276.4,1521.1 C282.17,1521.10 287.93,1500.10 293.7,1500.1 C297.00,1500.10 300.30,1512.84 303.6,1517.4 C306.07,1520.81 308.53,1525.46 311.0,1526.0 C319.23,1527.81 327.47,1528.50 335.7,1528.5 C343.97,1528.50 352.23,1525.89 360.5,1523.6 C364.60,1522.47 368.70,1521.65 372.8,1518.6 C375.27,1516.77 377.73,1504.00 380.2,1500.1 C383.10,1495.52 386.00,1490.20 388.9,1490.2 C391.80,1490.20 394.70,1498.29 397.6,1500.1 C400.47,1501.89 403.33,1503.25 406.2,1503.8 C409.50,1504.43 412.80,1504.31 416.1,1505.0 C419.80,1505.78 423.50,1512.70 427.2,1514.9 C430.93,1517.12 434.67,1519.90 438.4,1519.9 C442.10,1519.90 445.80,1509.21 449.5,1508.7 C455.27,1507.90 461.03,1508.36 466.8,1507.5 C469.27,1507.13 471.73,1502.23 474.2,1497.6 C477.50,1491.41 480.80,1464.20 484.1,1464.2 C486.17,1464.20 488.23,1472.81 490.3,1480.3 C492.37,1487.79 494.43,1514.07 496.5,1517.4 C499.80,1522.71 503.10,1526.00 506.4,1526.0 C509.67,1526.00 512.93,1519.86 516.2,1518.6 C521.17,1516.68 526.13,1514.90 531.1,1514.9 C536.03,1514.90 540.97,1520.10 545.9,1522.3 C550.03,1524.14 554.17,1527.30 558.3,1527.3 C564.07,1527.30 569.83,1526.50 575.6,1524.8 C578.90,1523.83 582.20,1508.82 585.5,1502.6 C588.80,1496.38 592.10,1486.50 595.4,1486.5 C598.70,1486.50 602.00,1507.50 605.3,1507.5 C607.77,1507.50 610.23,1494.86 612.7,1487.7 C615.17,1480.54 617.63,1464.20 620.1,1464.2 C623.40,1464.20 626.70,1467.49 630.0,1470.4 C633.30,1473.31 636.60,1485.20 639.9,1485.2 C641.97,1485.20 644.03,1469.05 646.1,1453.1 C648.17,1437.15 650.23,1360.99 652.3,1359.1 C653.93,1357.60 655.57,1356.70 657.2,1356.7 C659.67,1356.70 662.13,1396.20 664.6,1396.2 C667.07,1396.20 669.53,1376.78 672.0,1361.6 C674.07,1348.88 676.13,1307.20 678.2,1307.2 C680.27,1307.20 682.33,1331.64 684.4,1341.8 C686.27,1350.98 688.13,1354.79 690.0,1366.5 C692.47,1381.98 694.93,1426.78 697.4,1453.1 C699.07,1470.88 700.73,1498.90 702.4,1502.6 C704.43,1507.11 706.47,1510.00 708.5,1510.0 C710.57,1510.00 712.63,1499.99 714.7,1490.2 C716.77,1480.41 718.83,1446.43 720.9,1433.3 C722.57,1422.71 724.23,1408.60 725.9,1408.6 C727.93,1408.60 729.97,1420.96 732.0,1433.3 C733.67,1443.41 735.33,1478.57 737.0,1490.2 C738.63,1501.60 740.27,1512.25 741.9,1514.9 C746.87,1522.97 751.83,1526.34 756.8,1527.3 C765.03,1528.89 773.27,1529.80 781.5,1529.8 C788.10,1529.80 794.70,1528.51 801.3,1527.3 C805.40,1526.55 809.50,1525.53 813.6,1523.6 C816.90,1522.04 820.20,1514.26 823.5,1513.7 C828.47,1512.86 833.43,1512.40 838.4,1512.4 C841.70,1512.40 845.00,1519.80 848.3,1521.1 C851.57,1522.39 854.83,1523.60 858.1,1523.6 C863.07,1523.60 868.03,1517.94 873.0,1517.4 C879.60,1516.68 886.20,1516.20 892.8,1516.2 C896.90,1516.20 901.00,1518.11 905.1,1519.9 C908.40,1521.34 911.70,1527.30 915.0,1527.3 C917.90,1527.30 920.80,1515.80 923.7,1510.0 C926.17,1505.06 928.63,1495.10 931.1,1495.1 C934.00,1495.10 936.90,1499.98 939.8,1505.0 C941.43,1507.82 943.07,1518.89 944.7,1519.9 C948.83,1522.45 952.97,1522.13 957.1,1523.6 C959.97,1524.62 962.83,1527.30 965.7,1527.3 C968.60,1527.30 971.50,1525.33 974.4,1522.3 C976.87,1519.72 979.33,1497.31 981.8,1487.7 C984.27,1478.09 986.73,1466.80 989.2,1463.0 C991.67,1459.20 994.13,1455.60 996.6,1455.6 C999.50,1455.60 1002.40,1458.54 1005.3,1463.0 C1007.37,1466.18 1009.43,1489.87 1011.5,1497.6 C1014.37,1508.32 1017.23,1517.47 1020.1,1521.1 C1022.57,1524.22 1025.03,1527.30 1027.5,1527.3 C1030.40,1527.30 1033.30,1521.48 1036.2,1517.4 C1039.90,1512.19 1043.60,1496.40 1047.3,1496.4 C1050.20,1496.40 1053.10,1503.71 1056.0,1507.5 C1058.47,1510.72 1060.93,1515.82 1063.4,1517.4 C1067.53,1520.04 1071.67,1520.32 1075.8,1522.3 C1079.90,1524.27 1084.00,1529.80 1088.1,1529.8 C1093.07,1529.80 1098.03,1528.80 1103.0,1527.3 C1107.10,1526.06 1111.20,1513.77 1115.3,1512.4 C1119.43,1511.02 1123.57,1511.33 1127.7,1510.0 C1131.40,1508.81 1135.10,1500.10 1138.8,1500.1 C1141.70,1500.10 1144.60,1507.50 1147.5,1507.5 C1152.43,1507.50 1157.37,1506.30 1162.3,1506.3 C1168.47,1506.30 1174.63,1521.10 1180.8,1521.1 C1184.53,1521.10 1188.27,1518.26 1192.0,1514.9 C1195.30,1511.93 1198.60,1495.42 1201.9,1492.7 C1205.20,1489.98 1208.50,1487.70 1211.8,1487.7 C1215.90,1487.70 1220.00,1492.31 1224.1,1496.4 C1227.63,1499.92 1231.17,1513.70 1234.7,1513.7 C1237.17,1513.70 1239.63,1502.01 1242.1,1497.6 C1245.40,1491.70 1248.70,1482.80 1252.0,1482.8 C1254.50,1482.80 1257.00,1488.28 1259.5,1492.7 C1261.97,1497.06 1264.43,1508.95 1266.9,1512.4 C1272.67,1520.46 1278.43,1527.30 1284.2,1527.3 C1288.30,1527.30 1292.40,1524.49 1296.5,1521.1 C1299.00,1519.03 1301.50,1511.95 1304.0,1507.5 C1307.30,1501.62 1310.60,1490.20 1313.9,1490.2 C1317.17,1490.20 1320.43,1495.67 1323.7,1500.1 C1326.20,1503.49 1328.70,1512.47 1331.2,1514.9 C1334.50,1518.11 1337.80,1521.10 1341.1,1521.1 C1344.37,1521.10 1347.63,1515.89 1350.9,1513.7 C1355.03,1510.93 1359.17,1506.30 1363.3,1506.3 C1366.60,1506.30 1369.90,1513.61 1373.2,1514.9 C1376.50,1516.19 1379.80,1517.40 1383.1,1517.4 C1388.03,1517.40 1392.97,1512.40 1397.9,1512.4 C1401.20,1512.40 1404.50,1516.29 1407.8,1518.6 C1411.93,1521.49 1416.07,1528.50 1420.2,1528.5 C1426.80,1528.50 1433.40,1526.90 1440.0,1524.8 C1444.10,1523.49 1448.20,1518.94 1452.3,1514.9 C1455.60,1511.65 1458.90,1502.60 1462.2,1502.6 C1467.17,1502.60 1472.13,1514.40 1477.1,1517.4 C1482.87,1520.88 1488.63,1524.80 1494.4,1524.8 C1498.50,1524.80 1502.60,1521.14 1506.7,1517.4 C1510.00,1514.39 1513.30,1500.10 1516.6,1500.1 C1519.07,1500.10 1521.53,1500.10 1524.0,1500.1 C1527.30,1500.10 1530.60,1507.59 1533.9,1508.7 C1538.03,1510.08 1542.17,1509.86 1546.3,1511.2 C1551.23,1512.80 1556.17,1522.61 1561.1,1524.8 C1565.23,1526.63 1569.37,1528.50 1573.5,1528.5 C1579.27,1528.50 1585.03,1524.80 1590.8,1524.8 C1595.73,1524.80 1600.67,1528.50 1605.6,1528.5 C1612.20,1528.50 1618.80,1516.20 1625.4,1516.2 C1630.37,1516.20 1635.33,1527.30 1640.3,1527.3 C1645.23,1527.30 1650.17,1519.90 1655.1,1519.9 C1661.70,1519.90 1668.30,1524.80 1674.9,1524.8 C1677.37,1524.80 1679.83,1514.05 1682.3,1510.0 C1685.60,1504.58 1688.90,1496.40 1692.2,1496.4 C1695.50,1496.40 1698.80,1510.60 1702.1,1514.9 C1705.40,1519.20 1708.70,1524.80 1712.0,1524.8 C1715.30,1524.80 1718.60,1512.23 1721.9,1507.5 C1726.00,1501.62 1730.10,1497.58 1734.2,1492.7 C1737.80,1488.42 1741.40,1483.36 1745.0,1480.0 C1747.90,1477.30 1750.80,1473.20 1753.7,1473.2 C1756.47,1473.20 1759.23,1485.91 1762.0,1493.8 C1764.73,1501.60 1767.47,1519.39 1770.2,1521.3 C1773.87,1523.86 1777.53,1525.40 1781.2,1525.4 C1785.77,1525.40 1790.33,1520.94 1794.9,1517.2 C1798.57,1514.20 1802.23,1506.82 1805.9,1503.5 C1809.10,1500.60 1812.30,1496.60 1815.5,1496.6 C1819.63,1496.60 1823.77,1506.20 1827.9,1506.2 C1830.67,1506.20 1833.43,1500.70 1836.2,1500.7 C1841.67,1500.70 1847.13,1500.70 1852.6,1500.7 C1856.27,1500.70 1859.93,1515.80 1863.6,1515.8 C1867.27,1515.80 1870.93,1514.50 1874.6,1514.5 C1881.00,1514.50 1887.40,1528.20 1893.8,1528.2 C1899.30,1528.20 1904.80,1527.62 1910.3,1526.8 C1916.73,1525.84 1923.17,1511.70 1929.6,1511.7 C1936.00,1511.70 1942.40,1528.20 1948.8,1528.2 C1959.80,1528.20 1970.80,1525.07 1981.8,1522.7 C1988.20,1521.32 1994.60,1517.20 2001.0,1517.2 C2012.90,1517.20 2024.80,1525.40 2036.7,1525.4 C2044.03,1525.40 2051.37,1511.70 2058.7,1511.7 C2065.10,1511.70 2071.50,1520.02 2077.9,1522.7 C2083.40,1525.00 2088.90,1528.20 2094.4,1528.2 C2103.57,1528.20 2112.73,1513.10 2121.9,1513.1 C2128.30,1513.10 2134.70,1524.10 2141.1,1524.1 C2145.67,1524.10 2150.23,1511.70 2154.8,1511.7 C2163.07,1511.70 2171.33,1521.30 2179.6,1521.3 C2186.00,1521.30 2192.40,1517.20 2198.8,1517.2 C2205.20,1517.20 2211.60,1528.20 2218.0,1528.2 C2232.67,1528.20 2247.33,1527.63 2262.0,1525.4 C2265.67,1524.84 2269.33,1505.63 2273.0,1502.1 C2277.57,1497.71 2282.13,1493.80 2286.7,1493.8 C2292.20,1493.80 2297.70,1508.55 2303.2,1513.1 C2311.30,1519.80 2319.40,1523.17 2327.5,1528.2" fill="none" stroke="#000000" stroke-width="10" stroke-linejoin="round" stroke-linecap="butt"/>
<rect x="177.6" y="23.0" width="2153.4" height="1578.5" fill="none" stroke="#000" stroke-width="7.5" stroke-linejoin="round"/>
<line x1="285.4" y1="1600" x2="285.4" y2="1587" stroke="#000" stroke-width="6.5" stroke-linecap="round"/>
<line x1="393.0" y1="1600" x2="393.0" y2="1572" stroke="#000" stroke-width="6.5" stroke-linecap="round"/>
<line x1="500.7" y1="1600" x2="500.7" y2="1587" stroke="#000" stroke-width="6.5" stroke-linecap="round"/>
<line x1="608.3" y1="1600" x2="608.3" y2="1572" stroke="#000" stroke-width="6.5" stroke-linecap="round"/>
<line x1="716.0" y1="1600" x2="716.0" y2="1587" stroke="#000" stroke-width="6.5" stroke-linecap="round"/>
<line x1="823.6" y1="1600" x2="823.6" y2="1572" stroke="#000" stroke-width="6.5" stroke-linecap="round"/>
<line x1="931.2" y1="1600" x2="931.2" y2="1587" stroke="#000" stroke-width="6.5" stroke-linecap="round"/>
<line x1="1038.9" y1="1600" x2="1038.9" y2="1572" stroke="#000" stroke-width="6.5" stroke-linecap="round"/>
<line x1="1146.5" y1="1600" x2="1146.5" y2="1587" stroke="#000" stroke-width="6.5" stroke-linecap="round"/>
<line x1="1254.2" y1="1600" x2="1254.2" y2="1572" stroke="#000" stroke-width="6.5" stroke-linecap="round"/>
<line x1="1361.9" y1="1600" x2="1361.9" y2="1587" stroke="#000" stroke-width="6.5" stroke-linecap="round"/>
<line x1="1469.5" y1="1600" x2="1469.5" y2="1572" stroke="#000" stroke-width="6.5" stroke-linecap="round"/>
<line x1="1577.2" y1="1600" x2="1577.2" y2="1587" stroke="#000" stroke-width="6.5" stroke-linecap="round"/>
<line x1="1684.8" y1="1600" x2="1684.8" y2="1572" stroke="#000" stroke-width="6.5" stroke-linecap="round"/>
<line x1="1792.5" y1="1600" x2="1792.5" y2="1587" stroke="#000" stroke-width="6.5" stroke-linecap="round"/>
<line x1="1900.1" y1="1600" x2="1900.1" y2="1572" stroke="#000" stroke-width="6.5" stroke-linecap="round"/>
<line x1="2007.8" y1="1600" x2="2007.8" y2="1587" stroke="#000" stroke-width="6.5" stroke-linecap="round"/>
<line x1="2115.4" y1="1600" x2="2115.4" y2="1572" stroke="#000" stroke-width="6.5" stroke-linecap="round"/>
<line x1="2223.1" y1="1600" x2="2223.1" y2="1587" stroke="#000" stroke-width="6.5" stroke-linecap="round"/>
<text x="177.7" y="1707.5" font-size="97" text-anchor="middle">20</text>
<text x="393.0" y="1707.5" font-size="97" text-anchor="middle">25</text>
<text x="608.3" y="1707.5" font-size="97" text-anchor="middle">30</text>
<text x="823.6" y="1707.5" font-size="97" text-anchor="middle">35</text>
<text x="1038.9" y="1707.5" font-size="97" text-anchor="middle">40</text>
<text x="1254.2" y="1707.5" font-size="97" text-anchor="middle">45</text>
<text x="1469.5" y="1707.5" font-size="97" text-anchor="middle">50</text>
<text x="1684.8" y="1707.5" font-size="97" text-anchor="middle">55</text>
<text x="1900.1" y="1707.5" font-size="97" text-anchor="middle">60</text>
<text x="2115.4" y="1707.5" font-size="97" text-anchor="middle">65</text>
<text x="2330.7" y="1707.5" font-size="97" text-anchor="middle">70</text>
<text x="1252.8" y="1822" font-size="120" text-anchor="middle">2θ (Degree)</text>
<text transform="translate(109.5,806) rotate(-90)" font-size="123" text-anchor="middle">Intensity (a.u.)</text>
<text transform="translate(323.9,421.4) rotate(-90)" font-size="75.5" text-anchor="middle">(111)</text>
<text transform="translate(418.6,500.9) rotate(-90)" font-size="75.5" text-anchor="middle">(210)</text>
<text transform="translate(643.3,324.7) rotate(-90)" font-size="75.5" text-anchor="middle">(030)</text>
<text transform="translate(706.8,274.9) rotate(-90)" font-size="75.5" text-anchor="middle">(101)</text>
<text transform="translate(761.0,246.9) rotate(-90)" font-size="75.5" text-anchor="middle">(301)</text>
<text transform="translate(861.3,496.8) rotate(-90)" font-size="75.5" text-anchor="middle">(310)</text>
<text transform="translate(1018.4,398.0) rotate(-90)" font-size="75.5" text-anchor="middle">(013)</text>
<text transform="translate(1084.5,411.0) rotate(-90)" font-size="75.5" text-anchor="middle">(221)</text>
<text transform="translate(1230.6,501.8) rotate(-90)" font-size="75.5" text-anchor="middle">(212)</text>
<text transform="translate(1289.7,487.9) rotate(-90)" font-size="75.5" text-anchor="middle">(222)</text>
<text transform="translate(1348.8,395.8) rotate(-90)" font-size="75.5" text-anchor="middle">(222)</text>
<text transform="translate(1411.8,455.0) rotate(-90)" font-size="75.5" text-anchor="middle">(221)</text>
<text transform="translate(1492.9,446.0) rotate(-90)" font-size="75.5" text-anchor="middle">(310)</text>
<text transform="translate(1570.7,433.9) rotate(-90)" font-size="75.5" text-anchor="middle">(211)</text>
<text transform="translate(1851.9,416.9) rotate(-90)" font-size="75.5" text-anchor="middle">(312)</text>
<text transform="translate(1957.0,514.0) rotate(-90)" font-size="75.5" text-anchor="middle">(322)</text>
<text transform="translate(614.7,1387.6) rotate(-90)" font-size="75.5" text-anchor="middle">(211)</text>
<polygon points="302.5,513.2 282.0,554.4 323.0,554.4" fill="#0000ff"/>
<polygon points="536.0,546.7 515.5,587.7 556.5,587.7" fill="#0000ff"/>
<polygon points="628.3,429.0 607.8,470.0 648.8,470.0" fill="#0000ff"/>
<polygon points="694.3,383.8 673.8,424.4 714.8,424.4" fill="#0000ff"/>
<polygon points="734.1,354.7 713.6,395.7 754.6,395.7" fill="#0000ff"/>
<polygon points="999.0,499.9 978.5,540.4 1019.5,540.4" fill="#0000ff"/>
<polygon points="1057.3,512.2 1036.8,552.7 1077.8,552.7" fill="#0000ff"/>
<polygon points="1325.5,493.9 1305.0,535.7 1346.0,535.7" fill="#0000ff"/>
<polygon points="1394.5,548.0 1374.0,588.8 1415.0,588.8" fill="#0000ff"/>
<polygon points="1476.2,544.1 1455.7,584.5 1496.7,584.5" fill="#0000ff"/>
<polygon points="1549.6,530.0 1529.1,571.7 1570.1,571.7" fill="#0000ff"/>
<polygon points="1832.5,515.8 1812.0,556.8 1853.0,556.8" fill="#0000ff"/>
<polygon points="395.2,1415.9 375.2,1453.4 415.2,1453.4" fill="#008000"/><polygon points="395.2,1465.9 375.2,1428.4 415.2,1428.4" fill="#008000"/><polygon points="395.2,1432.7 388.6,1445.0 401.8,1445.0" fill="#000"/><polygon points="395.2,1449.2 388.6,1436.8 401.8,1436.8" fill="#000"/>
<polygon points="842.1,1450.3 822.1,1487.8 862.1,1487.8" fill="#008000"/><polygon points="842.1,1500.3 822.1,1462.8 862.1,1462.8" fill="#008000"/><polygon points="842.1,1467.0 835.5,1479.4 848.7,1479.4" fill="#000"/><polygon points="842.1,1483.5 835.5,1471.2 848.7,1471.2" fill="#000"/>
<polygon points="1213.0,1407.0 1193.0,1444.5 1233.0,1444.5" fill="#008000"/><polygon points="1213.0,1457.0 1193.0,1419.5 1233.0,1419.5" fill="#008000"/><polygon points="1213.0,1423.8 1206.4,1436.1 1219.6,1436.1" fill="#000"/><polygon points="1213.0,1440.2 1206.4,1427.9 1219.6,1427.9" fill="#000"/>
<polygon points="1258.2,1417.0 1238.2,1454.5 1278.2,1454.5" fill="#008000"/><polygon points="1258.2,1467.0 1238.2,1429.5 1278.2,1429.5" fill="#008000"/><polygon points="1258.2,1433.8 1251.6,1446.1 1264.8,1446.1" fill="#000"/><polygon points="1258.2,1450.2 1251.6,1437.9 1264.8,1437.9" fill="#000"/>
<polygon points="1928.2,1434.1 1908.2,1471.6 1948.2,1471.6" fill="#008000"/><polygon points="1928.2,1484.1 1908.2,1446.6 1948.2,1446.6" fill="#008000"/><polygon points="1928.2,1450.8 1921.6,1463.2 1934.8,1463.2" fill="#000"/><polygon points="1928.2,1467.3 1921.6,1455.0 1934.8,1455.0" fill="#000"/>
<polygon points="875.4,71.9 855.4,109.4 895.4,109.4" fill="#008000"/><polygon points="875.4,121.9 855.4,84.4 895.4,84.4" fill="#008000"/><polygon points="875.4,88.7 868.8,101.0 882.0,101.0" fill="#000"/><polygon points="875.4,105.2 868.8,92.8 882.0,92.8" fill="#000"/>
<rect x="467" y="1394" width="41" height="41" fill="#ff7f27"/>
<circle cx="652.5" cy="1323.5" r="20.6" fill="#ff0000"/>
<text x="2182.0" y="560.1" font-size="94" fill="#990000">(e)</text>
<text x="2190.8" y="792.8" font-size="94" fill="#008000">(d)</text>
<text x="2188.1" y="1028.0" font-size="94" fill="#0000ff">(c)</text>
<text x="2188.1" y="1256.1" font-size="94" fill="#ff0000">(b)</text>
<text x="2193.6" y="1463.7" font-size="94" fill="#000000">(a)</text>
<polygon points="309.5,79.0 289.0,121.0 330.0,121.0" fill="#0000ff"/>
<circle cx="1450.5" cy="97.5" r="20.6" fill="#ff0000"/>
<rect x="1921" y="77" width="41" height="41" fill="#ff9900"/>
<text y="117.5" font-size="79" fill="#0000ff"><tspan x="347.9" y="117.5">Sr</tspan><tspan x="422.9" y="138.0" font-size="44">3</tspan><tspan x="445.0" y="117.5" textLength="110" lengthAdjust="spacingAndGlyphs">Mg</tspan><tspan x="553.0" y="117.5">Si</tspan><tspan x="614.8" y="138.0" font-size="44">2</tspan><tspan x="635.9" y="117.5">O</tspan><tspan x="693.7" y="138.0" font-size="44">8</tspan></text>
<text y="117.5" font-size="79" fill="#008000"><tspan x="918.0" y="117.5">Sr</tspan><tspan x="993.0" y="138.0" font-size="44">2</tspan><tspan x="1015.0" y="117.5" textLength="110" lengthAdjust="spacingAndGlyphs">Mg</tspan><tspan x="1124.0" y="117.5">Si</tspan><tspan x="1186.0" y="138.0" font-size="44">2</tspan><tspan x="1206.0" y="117.5">O</tspan><tspan x="1265.1" y="138.0" font-size="44">7</tspan></text>
<text y="117.5" font-size="79" fill="#ff0000"><tspan x="1498.9" y="117.5">Sr</tspan><tspan x="1574.0" y="138.0" font-size="44">2</tspan><tspan x="1594.9" y="117.5">Si</tspan><tspan x="1656.8" y="117.5">O</tspan><tspan x="1717.0" y="138.0" font-size="44">4</tspan></text>
<text y="117.5" font-size="79" fill="#ff8000"><tspan x="1993.9" y="117.5">Si</tspan><tspan x="2054.9" y="117.5">O</tspan><tspan x="2113.0" y="138.0" font-size="44">2</tspan></text>
</svg></body></html>
